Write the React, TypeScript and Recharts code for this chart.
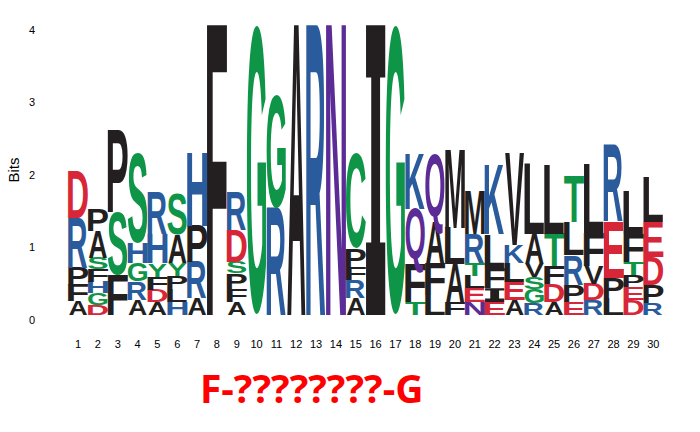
import { Bar, BarChart, XAxis, YAxis } from "recharts";

// sequence logo: one stack of letters per position, listed bottom -> top
const positions = [
  "1", "2", "3", "4", "5", "6", "7", "8", "9", "10",
  "11", "12", "13", "14", "15", "16", "17", "18", "19", "20",
  "21", "22", "23", "24", "25", "26", "27", "28", "29", "30",
];

const stacks = [
  "AFPRD", "DGHFSAP", "FSP", "ARGHS", "ADFYHR", "HLPYAS", "ARPH", "F", "AFPSDR", "G",
  "RG", "A", "R", "N", "ARFPC", "I", "G", "TFQK", "LFAQ", "FALM",
  "NELTRM", "EIFLK", "AELKV", "RGSVAL", "ADFTL", "EPRLT", "RDVFL", "LPER", "DEPTFL", "RPDEL",
];

const bits = [
  [0.19, 0.22, 0.24, 0.69, 0.65],
  [0.14, 0.16, 0.16, 0.17, 0.16, 0.36, 0.3],
  [0.55, 0.87, 1.13],
  [0.21, 0.25, 0.25, 0.28, 1.24],
  [0.18, 0.17, 0.18, 0.18, 0.4, 0.57],
  [0.18, 0.18, 0.18, 0.18, 0.39, 0.57],
  [0.23, 0.5, 0.5, 1.01],
  [3.99],
  [0.18, 0.18, 0.21, 0.16, 0.44, 0.53],
  [3.99],
  [1.47, 1.56],
  [3.99],
  [3.99],
  [3.99],
  [0.23, 0.25, 0.18, 0.25, 1.31],
  [3.99],
  [3.99],
  [0.18, 0.52, 0.76, 0.76],
  [0.28, 0.44, 0.56, 0.94],
  [0.18, 0.52, 0.5, 1.07],
  [0.18, 0.19, 0.17, 0.18, 0.4, 0.59],
  [0.18, 0.19, 0.28, 0.46, 0.95],
  [0.21, 0.25, 0.26, 0.25, 1.26],
  [0.16, 0.2, 0.17, 0.19, 0.4, 0.96],
  [0.18, 0.25, 0.24, 0.45, 0.94],
  [0.18, 0.23, 0.41, 0.46, 0.64],
  [0.21, 0.22, 0.24, 0.46, 0.94],
  [0.23, 0.28, 0.78, 1.06],
  [0.21, 0.18, 0.16, 0.18, 0.39, 0.6],
  [0.16, 0.25, 0.39, 0.48, 0.62],
];

const yTicks = [0, 1, 2, 3, 4];
const title = "F-????????-G";

const RED = "#d62638";
const BLUE = "#2a5b9c";
const GREEN = "#0f9548";
const PURPLE = "#5b2b96";
const BLACK = "#231f20";

function letterColor(c: string) {
  if ("DE".includes(c)) return RED;
  if ("KRH".includes(c)) return BLUE;
  if ("GSTYC".includes(c)) return GREEN;
  if ("NQ".includes(c)) return PURPLE;
  return BLACK;
}

// rough ink box of each bold glyph, in em: left bearing, ink width, below baseline, top
const CAP = 0.688;
const RND = 0.7;
const INK: Record<string, [number, number, number, number]> = {
  A: [0.0, 0.72, 0, CAP],
  C: [0.045, 0.635, 0.012, RND],
  D: [0.075, 0.6, 0, CAP],
  E: [0.075, 0.54, 0, CAP],
  F: [0.075, 0.49, 0, CAP],
  G: [0.045, 0.68, 0.012, RND],
  H: [0.075, 0.57, 0, CAP],
  K: [0.075, 0.65, 0, CAP],
  L: [0.075, 0.51, 0, CAP],
  M: [0.07, 0.69, 0, CAP],
  N: [0.075, 0.57, 0, CAP],
  P: [0.075, 0.55, 0, CAP],
  Q: [0.045, 0.7, 0.07, RND],
  R: [0.075, 0.65, 0, CAP],
  S: [0.035, 0.6, 0.012, RND],
  T: [0.02, 0.57, 0, CAP],
  V: [0.0, 0.667, 0, CAP],
  Y: [0.0, 0.667, 0, CAP],
};

const maxLayers = Math.max(...stacks.map((s) => s.length));

const data = positions.map((pos, i) => {
  const row: Record<string, string | number> = { pos };
  stacks[i].split("").forEach((c, j) => {
    row[`l${j}`] = c;
    row[`h${j}`] = bits[i][j];
  });
  return row;
});

function Glyph(props: any) {
  const { x, y, width, height, letter } = props;
  if (!letter || !(height > 0)) return null;
  const bx = x + 0.4;
  const bw = width - 0.8;
  const fill = letterColor(letter);
  if (letter === "I") {
    const top = y + height * 0.18;
    const bottom = y + height * 0.75;
    const s1 = bx + bw * 0.27;
    const s2 = bx + bw * 0.73;
    const d = `M${bx},${y}H${bx + bw}V${top}H${s2}V${bottom}H${bx + bw}V${y + height}H${bx}V${bottom}H${s1}V${top}H${bx}Z`;
    return <path d={d} fill={fill} />;
  }
  const [lsb, inkW, below, above] = INK[letter];
  const fs = 100;
  const sx = bw / (inkW * fs);
  const sy = height / ((above + below) * fs);
  const tx = bx - lsb * fs * sx;
  const ty = y + height - below * fs * sy;
  return (
    <text
      transform={`translate(${tx},${ty}) scale(${sx},${sy})`}
      fontFamily="Liberation Sans, Arial, sans-serif"
      fontWeight="bold"
      fontSize={fs}
      fill={fill}
    >
      {letter}
    </text>
  );
}

function XTick(props: any) {
  const { x, y, payload } = props;
  return (
    <text x={x} y={y} dy={33} textAnchor="middle" fontFamily="Liberation Sans, Arial, sans-serif" fontSize={11} fill="#000">
      {payload.value}
    </text>
  );
}

function YTick(props: any) {
  const { x, y, payload } = props;
  return (
    <text x={x} y={y} dy={9} textAnchor="end" fontFamily="Liberation Sans, Arial, sans-serif" fontSize={11} fill="#000">
      {payload.value}
    </text>
  );
}

export default function App() {
  return (
    <div style={{ position: "absolute", left: 0, top: 0, width: 700, height: 432, background: "#fff" }}>
      <BarChart
        width={700}
        height={432}
        data={data}
        margin={{ top: 24.5, right: 36.8, bottom: 87, left: 0 }}
        barCategoryGap={0}
        barGap={0}
      >
        <XAxis
          dataKey="pos"
          axisLine={false}
          tickLine={false}
          tickSize={0}
          tickMargin={0}
          height={30}
          interval={0}
          tick={XTick}
        />
        <YAxis
          domain={[0, 4]}
          ticks={yTicks}
          axisLine={false}
          tickLine={false}
          tickSize={0}
          tickMargin={33}
          width={68.1}
          tick={YTick}
        />
        {Array.from({ length: maxLayers }, (_, j) => (
          <Bar
            key={j}
            dataKey={`h${j}`}
            stackId="logo"
            isAnimationActive={false}
            shape={(p: any) => <Glyph {...p} letter={p.payload?.[`l${j}`]} />}
          />
        ))}
      </BarChart>
      <svg width={700} height={432} style={{ position: "absolute", left: 0, top: 0, pointerEvents: "none" }}>
        <text
          x={19.3}
          y={170}
          transform="rotate(-90, 19.3, 170)"
          textAnchor="middle"
          fontFamily="Liberation Sans, Arial, sans-serif"
          fontSize={15}
          fill="#000"
        >
          Bits
        </text>
        <text x={311.7} y={403.3} textAnchor="middle" fontFamily="Open Sans, sans-serif" fontWeight={700} fontSize={39} fill="#ff0000">
          {title}
        </text>
      </svg>
    </div>
  );
}
